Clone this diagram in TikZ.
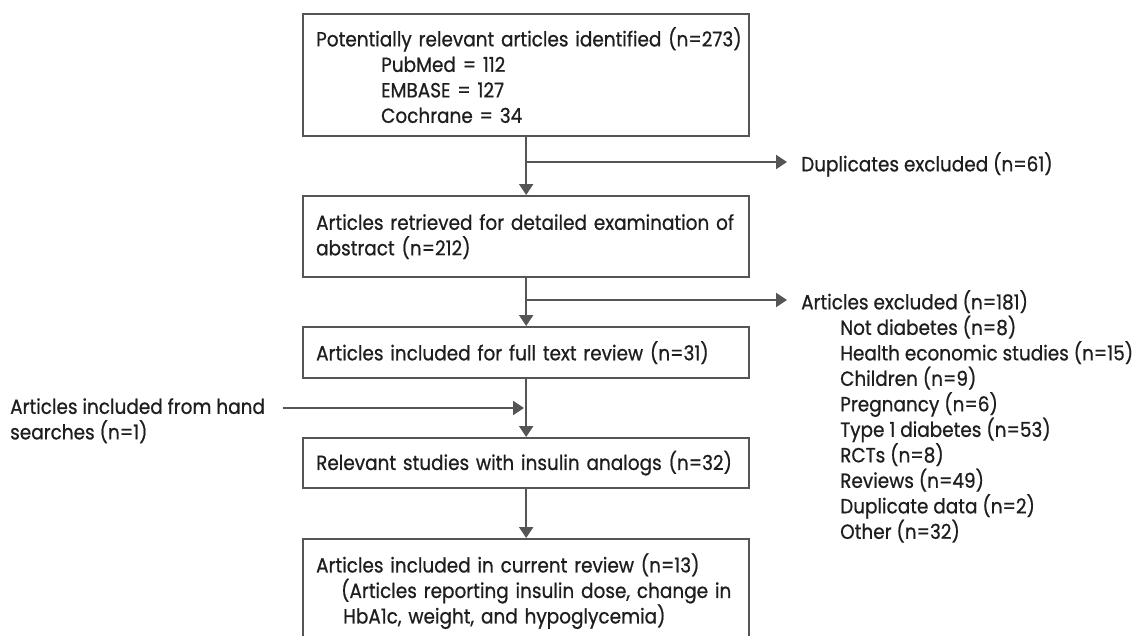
\documentclass[tikz,border=0pt]{standalone}
\usepackage{fontspec}
\setmainfont[FakeStretch=0.9,FakeBold=0.7]{Poppins}
\usetikzlibrary{arrows.meta}
\definecolor{lncol}{HTML}{555555}
\definecolor{txcol}{HTML}{1E1E1E}
\newcommand\dfont{\fontsize{20.5}{25.5}\selectfont}
\begin{document}
\begin{tikzpicture}[x=1pt,y=-1pt,
  box/.style={draw=lncol, line width=2.3pt, anchor=north west, inner xsep=13pt, inner ysep=0pt,
              text width=420pt, align=left, font=\dfont, text=txcol},
  lbl/.style={anchor=north west, align=left, inner sep=0pt, font=\dfont, text=txcol},
  conn/.style={draw=lncol, line width=2.3pt},
  arr/.style={conn, -{Triangle[length=11pt,width=14pt]}}]
\useasboundingbox (0,0) rectangle (1136,635);
\clip (0,0) rectangle (1136,635);
\fill[white] (0,0) rectangle (1136,635);

\node[box, minimum height=122pt] (b1) at (302,13)
  {\mbox{Potentially relevant articles identified (n=273)}\\
   \hspace*{65pt}PubMed = 112\\
   \hspace*{65pt}EMBASE = 127\\
   \hspace*{65pt}Cochrane = 34};
\node[box, minimum height=81pt] (b2) at (302,195)
  {\mbox{Articles retrieved for detailed examination of}\\abstract (n=212)};
\node[box, minimum height=51pt] (b3) at (302,326)
  {\mbox{Articles included for full text review (n=31)}};
\node[box, minimum height=50pt] (b4) at (302,437)
  {\mbox{Relevant studies with insulin analogs (n=32)}};
\node[box, minimum height=104pt] (b5) at (302,538)
  {\mbox{Articles included in current review (n=13)}\\
   \hspace*{25pt}\mbox{(Articles reporting insulin dose, change in}\\
   \hspace*{27pt}\mbox{HbA1c, weight, and hypoglycemia)}};

\node[lbl] (dup) at (801,152) {Duplicates excluded (n=61)};
\node[lbl] (excl) at (801,290)
  {Articles excluded (n=181)\\
   \hspace*{39pt}Not diabetes (n=8)\\
   \hspace*{39pt}Health economic studies (n=15)\\
   \hspace*{39pt}Children (n=9)\\
   \hspace*{39pt}Pregnancy (n=6)\\
   \hspace*{39pt}Type 1 diabetes (n=53)\\
   \hspace*{39pt}RCTs (n=8)\\
   \hspace*{39pt}Reviews (n=49)\\
   \hspace*{39pt}Duplicate data (n=2)\\
   \hspace*{39pt}Other (n=32)};
\node[lbl] (hand) at (10,398)
  {Articles included from hand\\searches (n=1)};

\coordinate (j1) at (525,162);
\coordinate (e1) at (787,162);
\coordinate (j2) at (525,300);
\coordinate (e2) at (787,300);
\coordinate (h1) at (283,408);
\coordinate (h2) at (524,408);

\draw[arr] (b1.south) -- (b2.north);
\draw[arr] (b2.south) -- (b3.north);
\draw[arr] (b3.south) -- (b4.north);
\draw[arr] (b4.south) -- (b5.north);
\draw[arr] (j1) -- (e1);
\draw[arr] (j2) -- (e2);
\draw[arr] (h1) -- (h2);
\end{tikzpicture}
\end{document}
